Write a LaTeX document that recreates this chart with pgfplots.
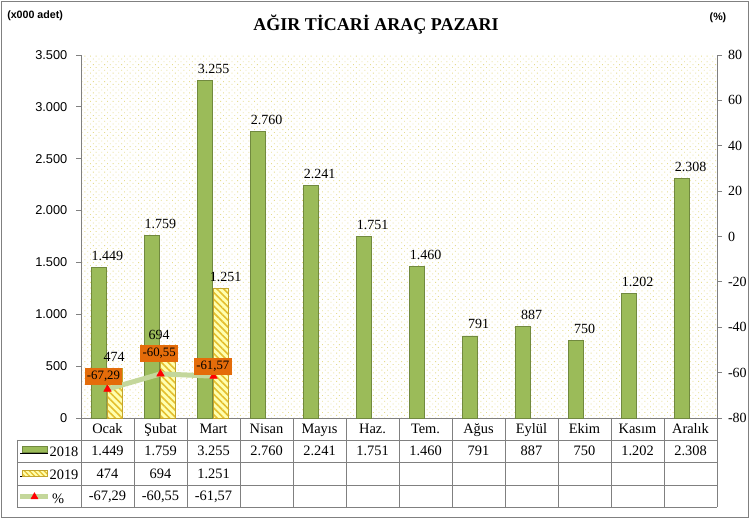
\documentclass[border=0pt]{standalone}
\usepackage{pgfplots}
\pgfplotsset{compat=1.18}
\usepackage{pgfplotstable}
\usetikzlibrary{patterns,patterns.meta}
\usepackage{fontspec}
\setmainfont{Liberation Serif}
\newfontfamily\sansf{Liberation Sans}

\definecolor{gbar}{RGB}{155,187,89}
\definecolor{gbord}{RGB}{113,137,63}
\definecolor{yfill}{RGB}{255,255,175}
\definecolor{yline}{RGB}{228,190,45}
\definecolor{yborder}{RGB}{195,165,45}
\definecolor{pline}{RGB}{196,215,155}
\definecolor{lbl}{RGB}{228,108,10}
\definecolor{dotc}{RGB}{230,220,140}
\definecolor{gridc}{RGB}{128,128,128}

\newcommand\tf{\fontsize{10.8}{13}\selectfont}

\pgfplotstableread{
x y
0 1449
1 1759
2 3255
3 2760
4 2241
5 1751
6 1460
7 791
8 887
9 750
10 1202
11 2308
}\dataA

\pgfplotstableread{
x y dx
0 474 5
1 694 -1
2 1251 9
}\dataB

\pgfplotstableread{
x y dx dy
0 -67.29 -3.0 9.4
1 -60.55 -1.0 15.4
2 -61.57 -0.5 7.5
}\dataC

\begin{document}
\begin{tikzpicture}
\begin{axis}[
  scale only axis, width=477pt, height=272.25pt,
  xmin=-0.5, xmax=11.5, ymin=0, ymax=3500,
  axis x line*=bottom, axis y line*=left,
  axis line style={draw=gridc, line width=0.6pt},
  xtick={0,...,11},
  xticklabels={Ocak,Şubat,Mart,Nisan,Mayıs,Haz.,Tem.,Ağus,Eylül,Ekim,Kasım,Aralık},
  x tick style={draw=none},
  xticklabel style={font=\tf, anchor=base, yshift=-8pt},
  ytick={0,500,...,3500},
  tick align=outside, major tick length=3.75pt,
  y tick style={draw=gridc, line width=0.6pt},
  yticklabel style={font=\sansf\fontsize{9.6}{11}\selectfont, xshift=-3pt},
  /pgf/number format/1000 sep={.},
  /pgf/number format/assume math mode=true,
  axis background/.style={fill=white, postaction={pattern={Dots[distance=3pt, radius=0.45pt, angle=45]}, pattern color=dotc}},
  clip=false,
  bar width=11.25pt,
  nodes near coords,
  every node near coord/.append style={font=\fontsize{10.5}{12}\selectfont, text=black, anchor=south, yshift=1.5pt},
  legend style={at={(-0.0991,-0.078)}, anchor=north west, draw=none, fill=none, font=\tf,
     inner sep=0pt, outer sep=0pt, row sep=7.4pt, column sep=-1pt,
     nodes={inner sep=0pt, text height=7pt, text depth=2.5pt}},
  legend cell align=left,
]
\addplot[ybar, forget plot, bar shift=-6.375pt, fill=gbar, draw=gbord, line width=0.6pt] table[x=x,y=y]{\dataA};
\addplot[ybar, forget plot, bar shift=5.25pt, fill=yfill, draw=yborder, line width=0.6pt,
  postaction={pattern={Lines[angle=-45,distance=3.6pt,line width=1.2pt]}, pattern color=yline},
  visualization depends on={\thisrow{dx} \as \bdx},
  every node near coord/.append style={xshift=\bdx pt}] table[x=x,y=y]{\dataB};
\addlegendimage{legend image code/.code={
  \path (0pt,0pt) -- (21pt,0pt);
  \draw[fill=gbar, draw=gbord, line width=0.6pt] (1.5pt,0.4pt) rectangle (20pt,4.9pt);}}
\addlegendentry{2018}
\addlegendimage{legend image code/.code={
  \path (0pt,0pt) -- (21pt,0pt);
  \draw[fill=yfill, draw=yborder, line width=0.6pt, postaction={pattern={Lines[angle=-45,distance=2.6pt,line width=0.9pt]}, pattern color=yline}] (1.5pt,0.4pt) rectangle (20pt,4.9pt);}}
\addlegendentry{2019}
\addlegendimage{legend image code/.code={
  \draw[pline, line width=3.75pt] (0pt,2.6pt) -- (21pt,2.6pt);
  \path[mark=triangle*, mark size=3pt, mark options={fill=red, draw=red}] plot coordinates {(10.5pt,2.6pt)};}}
\addlegendentry{\,\%}
\end{axis}

\begin{axis}[
  scale only axis, width=477pt, height=272.25pt,
  xmin=-0.5, xmax=11.5, ymin=-80, ymax=80,
  axis y line*=right, axis x line=none,
  ytick={-80,-60,...,80},
  axis line style={draw=gridc, line width=0.6pt},
  tick align=outside, major tick length=3.75pt,
  y tick style={draw=gridc, line width=0.6pt},
  yticklabel style={font=\fontsize{10.5}{12}\selectfont, xshift=1pt},
  /pgf/number format/assume math mode=true,
  clip=false,
]
\addplot[pline, line width=3.75pt, mark=triangle*, mark size=3.2pt,
  mark options={fill=red, draw=red, line width=0.4pt},
  visualization depends on={\thisrow{dx} \as \dx},
  visualization depends on={\thisrow{dy} \as \dy},
  nodes near coords={\pgfmathprintnumber[fixed,fixed zerofill,precision=2,use comma,assume math mode=true]{\pgfplotspointmeta}},
  every node near coord/.append style={font=\fontsize{9.6}{11}\selectfont, text=black, fill=lbl,
     inner xsep=1.8pt, inner ysep=2.2pt, text height=6.6pt, text depth=1.9pt, anchor=center, xshift=\dx pt, yshift=\dy pt},
] table[x=x,y=y]{\dataC};
\end{axis}

% data table grid
\begin{scope}[draw=gridc, line width=0.6pt]
  \foreach \yy in {-16.5,-33,-50.25,-66.75} \draw (-48pt,\yy pt) -- (477pt,\yy pt);
  \foreach \k in {0,...,12} \draw ({\k*39.75pt},0pt) -- ({\k*39.75pt},-66.75pt);
  \draw (-48pt,-16.5pt) -- (-48pt,-66.75pt);
\end{scope}
\foreach \v [count=\i from 0] in {1.449,1.759,3.255,2.760,2.241,1.751,1.460,791,887,750,1.202,2.308}
  \node[font=\tf, anchor=base, inner sep=0pt] at ({(\i+0.5)*39.75pt},-28.4pt) {\v};
\foreach \v [count=\i from 0] in {474,694,1.251}
  \node[font=\tf, anchor=base, inner sep=0pt] at ({(\i+0.5)*39.75pt},-45.2pt) {\v};
\foreach \v [count=\i from 0] in {-67{,}29,-60{,}55,-61{,}57}
  \node[font=\tf, anchor=base, inner sep=0pt] at ({(\i+0.5)*39.75pt},-62.1pt) {\v};

% titles
\node[font=\bfseries\fontsize{13.5}{16}\selectfont] at (221.25pt,294.75pt) {AĞIR TİCARİ ARAÇ PAZARI};
\node[font=\sansf\bfseries\fontsize{8}{10}\selectfont, anchor=west, inner sep=0pt] at (-55.5pt,301.5pt) {(x000 adet)};
\node[font=\sansf\bfseries\fontsize{8}{10}\selectfont, inner sep=0pt] at (477.75pt,300pt) {(\%)};

% outer frame
\draw[draw=gridc, line width=1.1pt] (-59.6pt,-74.6pt) rectangle (500.6pt,312.4pt);
\pgfresetboundingbox
\useasboundingbox (-60.75pt,-76.5pt) rectangle (501.75pt,313.5pt);
\end{tikzpicture}
\end{document}
